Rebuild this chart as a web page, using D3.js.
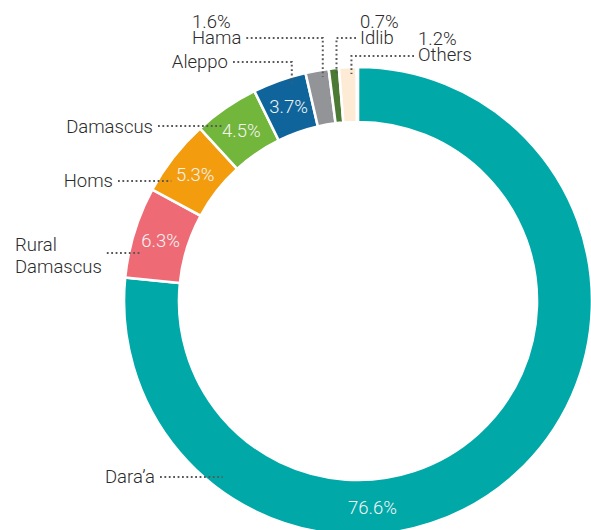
<!DOCTYPE html>
<html lang="en">
<head>
	<meta charset="UTF-8">
	<title>Donut</title>
	<script src="https://cdn.jsdelivr.net/npm/d3@7"></script>
	<style>
		body {
			margin: 0;
			background: #fff;
		}

		svg {
			display: block;
		}

		.name {
			font-family: Roboto, "Open Sans", sans-serif;
			font-weight: 300;
			font-size: 18.5px;
			fill: #2b2b2b;
		}

		.pct {
			font-family: Roboto, "Open Sans", sans-serif;
			font-weight: 300;
			font-size: 18.5px;
			fill: #f4f4f4;
			text-anchor: middle;
		}

		.leader {
			fill: none;
			stroke: #585858;
			stroke-width: 2;
			stroke-dasharray: 1.8 2.6;
		}
	</style>
</head>
<body>
<script>
	// data
	var categories = ["Dara\u2019a", "Rural Damascus", "Homs", "Damascus", "Aleppo", "Hama", "Idlib", "Others"];
	var shares = [76.6, 6.3, 5.3, 4.5, 3.7, 1.6, 0.7, 1.2];
	var colors = ["#00a8a8", "#ee6b76", "#f39c0e", "#72b63c", "#0f659b", "#939497", "#4b7a35", "#fdebd6"];

	var width = 591, height = 530;
	var cx = 358, cy = 301, outerR = 234, innerR = 179;

	// label placement (text baseline, anchor, leader row)
	var layout = {
		"Dara\u2019a":      {x: 155, y: [483], anchor: "end", leaderY: 477, pctInside: true, pctAngle: 176},
		"Rural Damascus":   {x: 15, y: [251, 273], lines: ["Rural", "Damascus"], anchor: "start", leaderY: 253, pctInside: true},
		"Homs":             {x: 113, y: [187], anchor: "end", leaderY: 181, pctInside: true},
		"Damascus":         {x: 153, y: [133], anchor: "end", leaderY: 126, pctInside: true},
		"Aleppo":           {x: 228, y: [68], anchor: "end", leaderY: 62, pctInside: true, elbow: true},
		"Hama":             {x: 192, y: [28, 44], anchor: "start", leaderY: 38, elbow: true},
		"Idlib":            {x: 360, y: [28, 44], anchor: "start", leaderY: 38, elbow: true, side: "left"},
		"Others":           {x: 418, y: [45, 61], anchor: "start", leaderY: 56, elbow: true, side: "left"}
	};

	var rows = categories.map(function (c, i) {
		return {name: c, value: shares[i], color: colors[i]};
	});

	var svg = d3.select("body").append("svg")
		.attr("width", width)
		.attr("height", height);

	var g = svg.append("g").attr("transform", "translate(" + cx + "," + cy + ")");

	var total = d3.sum(shares);
	var pie = d3.pie()
		.sort(null)
		.value(function (d) { return d.value; })
		.startAngle(0)
		.endAngle(2 * Math.PI * total / 100);

	var arc = d3.arc().innerRadius(innerR).outerRadius(outerR);
	var arcs = pie(rows);

	g.selectAll("path.slice")
		.data(arcs)
		.enter().append("path")
		.attr("class", "slice")
		.attr("d", arc)
		.attr("fill", function (d) { return d.data.color; })
		.attr("stroke", "#fff")
		.attr("stroke-width", 2.6);

	function polar(angle, r) {
		return [r * Math.sin(angle), -r * Math.cos(angle)];
	}

	var midR = (innerR + outerR) / 2;

	// percentages inside the ring
	arcs.forEach(function (d) {
		var L = layout[d.data.name];
		if (!L.pctInside) return;
		var a = L.pctAngle != null ? L.pctAngle * Math.PI / 180 : (d.startAngle + d.endAngle) / 2;
		var p = polar(a, midR);
		g.append("text")
			.attr("class", "pct")
			.attr("x", p[0])
			.attr("y", p[1])
			.attr("dy", "0.36em")
			.text(d.data.value.toFixed(1) + "%");
	});

	// outside labels + dotted leaders
	var lab = svg.append("g");
	arcs.forEach(function (d) {
		var L = layout[d.data.name];
		var lines = L.lines ? L.lines : [d.data.name];
		if (!L.pctInside) lines = [d.data.value.toFixed(1) + "%"].concat(lines);

		var t = lab.append("g");
		lines.forEach(function (s, k) {
			t.append("text")
				.attr("class", "name")
				.attr("x", L.x)
				.attr("y", L.y[k])
				.attr("text-anchor", L.anchor)
				.text(s);
		});

		var bb = t.node().getBBox();
		var x0 = L.side === "left" ? bb.x - 4 : bb.x + bb.width + 5;
		var pts;
		if (L.elbow) {
			var a = d.startAngle + 0.7 * (d.endAngle - d.startAngle);
			var e = polar(a, 227);
			pts = [[x0, L.leaderY], [cx + e[0], L.leaderY], [cx + e[0], cy + e[1]]];
		} else {
			var dy = L.leaderY - cy;
			var ex = cx - Math.sqrt(222 * 222 - dy * dy);
			pts = [[x0, L.leaderY], [ex, L.leaderY]];
		}
		lab.append("path")
			.attr("class", "leader")
			.attr("d", d3.line()(pts));
	});
</script>
</body>
</html>
